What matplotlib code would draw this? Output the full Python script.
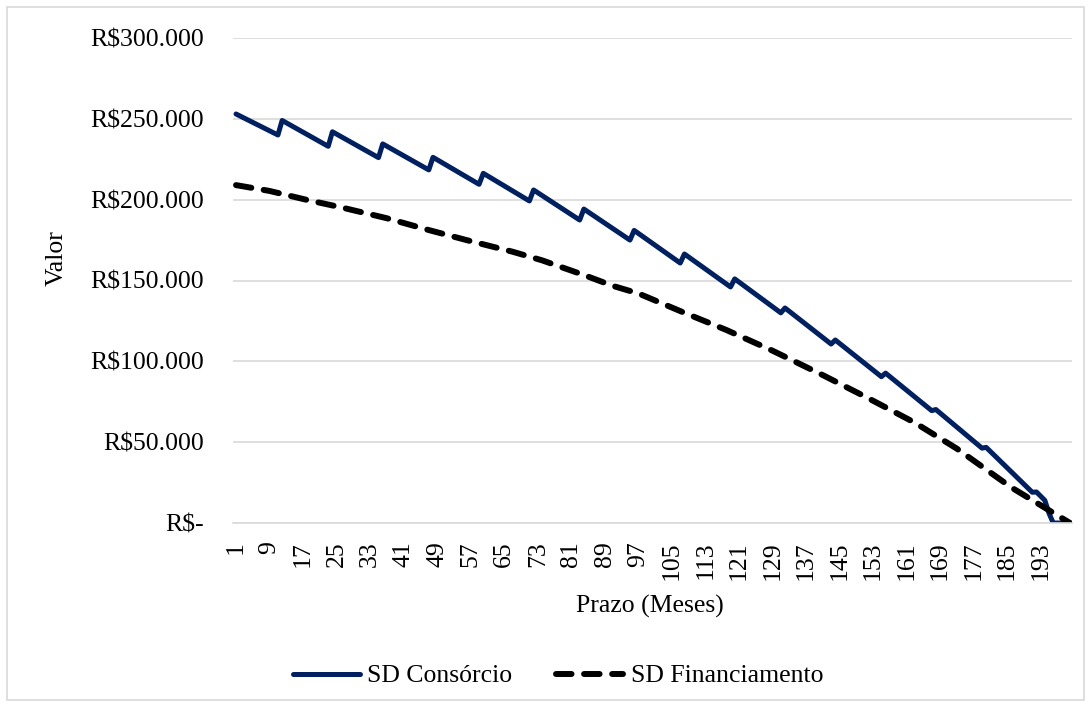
import matplotlib
matplotlib.use("Agg")
import matplotlib.pyplot as plt
from matplotlib.patches import Rectangle
from matplotlib.ticker import FuncFormatter, MultipleLocator

plt.rcParams['font.family'] = ['Liberation Serif', 'DejaVu Serif']

# Saldo devedor do consórcio (vales antes e picos depois de cada reajuste anual)
consorcio_meses = [1, 11, 12, 23, 24, 35, 36, 47, 48, 59, 60, 71, 72, 83, 84,
                   95, 96, 107, 108, 119, 120, 131, 132, 143, 144, 155, 156,
                   167, 168, 179, 180, 191, 192, 194, 195, 196, 200]
consorcio_saldo = [253000, 240000, 249000, 233000, 242000, 226000, 234500,
                   218400, 226200, 209500, 216300, 199200, 206000, 187400,
                   194200, 175000, 181000, 160800, 166400, 146000, 151000,
                   130000, 133000, 110700, 113200, 90500, 92700, 69500, 70200,
                   46300, 46800, 19000, 19200, 14000, 6000, 0, 0]

# Saldo devedor do financiamento
financ_meses = [1, 9, 18, 26, 37, 47, 56, 67, 74, 84, 91, 97, 108, 118, 129,
                141, 152, 163, 173, 186, 200]
financ_saldo = [209000, 205400, 199800, 195300, 188500, 181200, 175000,
                167800, 162500, 153400, 146600, 142000, 130000, 119400,
                106600, 91500, 77000, 62000, 46000, 22000, 0]

n_meses = 200
tick_meses = list(range(1, n_meses, 8))

FS = 18.5
W, H = 1091, 707
fig = plt.figure(figsize=(W / 100, H / 100), dpi=100)
ax = fig.add_axes([233 / W, 1 - 523 / H, (1072 - 233) / W, (523 - 38) / H])

ax.plot(consorcio_meses, consorcio_saldo, color='#002060', lw=3.6,
        solid_joinstyle='round', solid_capstyle='round', label='SD Consórcio')
ax.plot(financ_meses, financ_saldo, color='black', lw=4.3,
        linestyle=(0, (2.6, 2.1)), dash_capstyle='round',
        label='SD Financiamento')

ax.set_xlim(0.28, 200.48)
ax.set_ylim(0, 300000)
ax.yaxis.set_major_locator(MultipleLocator(50000))


def reais(v, pos):
    if v == 0:
        return 'R$-'
    return 'R$' + f'{v:,.0f}'.replace(',', '.')


ax.yaxis.set_major_formatter(FuncFormatter(reais))
ax.set_xticks(tick_meses)
ax.set_xticklabels([str(m) for m in tick_meses], rotation=90, va='top')

ax.grid(axis='y', color='#d9d9d9', lw=1.2)
ax.set_axisbelow(True)
for s in ['top', 'right', 'left']:
    ax.spines[s].set_visible(False)
ax.spines['bottom'].set_color('#d9d9d9')
ax.spines['bottom'].set_linewidth(1.2)
ax.tick_params(axis='both', length=0, labelsize=FS, colors='black')
ax.tick_params(axis='y', pad=21)
ax.tick_params(axis='x', pad=13)

fig.text(650 / W, 1 - 606 / H, 'Prazo (Meses)', fontsize=FS,
         ha='center', va='center')
fig.text(57 / W, 1 - 258 / H, 'Valor', fontsize=FS, rotation=90,
         ha='center', va='center')

fig.legend(loc='center', bbox_to_anchor=(558 / W, 1 - 676 / H), ncol=2,
           frameon=False, fontsize=FS, handlelength=2.6, handletextpad=0.3,
           columnspacing=1.7)

# moldura do gráfico
fig.patches.append(Rectangle((7 / W, 7 / H), 1 - 14 / W, 1 - 14 / H,
                             transform=fig.transFigure, fill=False,
                             edgecolor='#d9d9d9', lw=1.2))

fig.savefig('out.png', dpi=100, facecolor='white')
